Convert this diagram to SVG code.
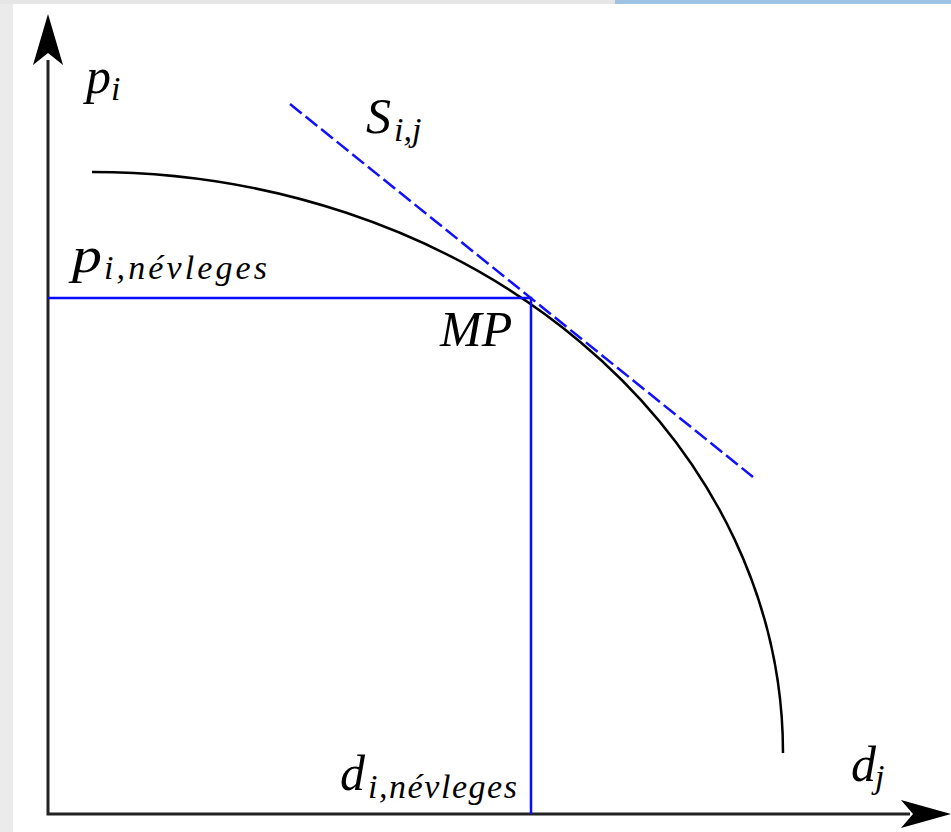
<svg xmlns="http://www.w3.org/2000/svg" width="951" height="832" viewBox="0 0 951 832">
<style>
.ax{stroke:#222;stroke-width:3;fill:none}
.arrow{fill:#000}
.curve{stroke:#000;stroke-width:2.5;fill:none}
.blue{stroke:#0a0aff;stroke-width:2.5;fill:none}
.dash{stroke:#1010ff;stroke-width:2.5;fill:none;stroke-dasharray:15 5}
.m{font-family:"Liberation Serif","DejaVu Serif",serif;font-style:italic;fill:#000}
.big{font-size:50px}
.sub{font-size:34px}
</style>
<rect x="0" y="0" width="951" height="832" fill="#ffffff"/>
<rect x="0" y="0" width="13" height="832" fill="#ebebeb"/>
<rect x="0" y="0" width="951" height="4" fill="#e6e6e6"/>
<rect x="615" y="0" width="336" height="4" fill="#9fc4e2"/>
<g id="axes">
<path class="ax" d="M48,60 V814 H910"/>
<path class="arrow" d="M48,14 L63,65 L48,53 L33,65 Z"/>
<path class="arrow" d="M951,814 L901,800 L913,814 L901,828 Z"/>
</g>
<g id="connectors">
<path class="curve" d="M92,172 A691,581 0 0 1 783,753"/>
<path class="blue" d="M48,298 H531 V814"/>
<path class="dash" d="M290,104 L753,477"/>
</g>
<g id="labels">
<g id="label-pi"><text class="m big" x="86" y="93">p</text><text class="m sub" x="111" y="100">i</text></g>
<g id="label-sij"><text class="m big" x="366" y="133">S</text><text class="m sub" x="394" y="141">i,j</text></g>
<g id="label-pnev"><text class="m big" x="72" y="272" textLength="30" lengthAdjust="spacingAndGlyphs">p</text><text class="m sub" x="104" y="279" textLength="163">i,névleges</text></g>
<g id="label-mp"><text class="m big" x="440" y="346">MP</text></g>
<g id="label-dnev"><text class="m big" x="340" y="790">d</text><text class="m sub" x="368" y="798" textLength="149">i,névleges</text></g>
<g id="label-dj"><text class="m big" x="851" y="781">d</text><text class="m sub" x="875" y="788">j</text></g>
</g>
</svg>
